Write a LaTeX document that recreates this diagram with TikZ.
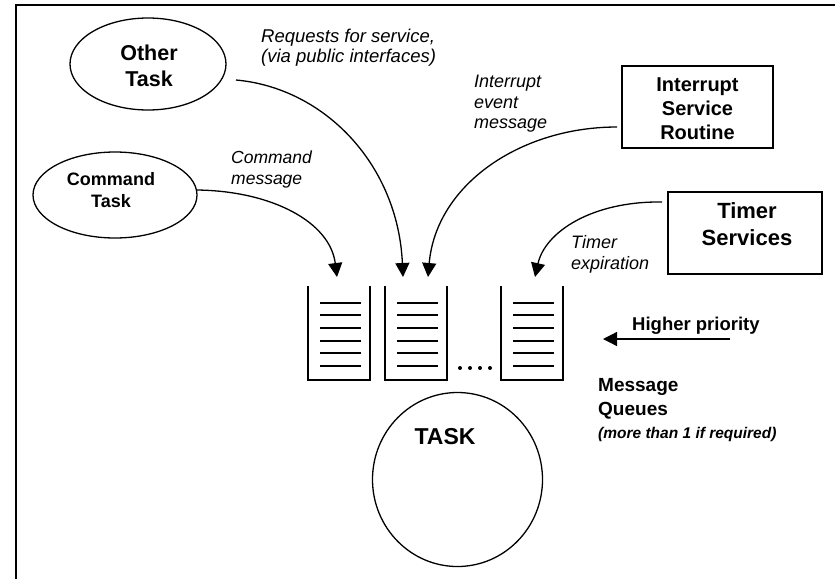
\documentclass[tikz,border=0pt]{standalone}
\usepackage{fontspec}
\setmainfont{Liberation Sans}
\usetikzlibrary{shapes.geometric,arrows.meta}
\begin{document}
\begin{tikzpicture}[x=1pt,y=-1pt,
  oval/.style={draw,ellipse,line width=1.3pt,inner sep=0pt},
  boxnode/.style={draw,rectangle,line width=1.5pt,inner sep=0pt},
  boldtxt/.style={font=\bfseries,align=center,inner sep=0pt},
  itxt/.style={font=\itshape\fontsize{18}{20.5}\selectfont,align=left,anchor=west,inner sep=0pt},
  flow/.style={line width=1.3pt,-{Triangle[length=14pt,width=14pt]}},
  wall/.style={line width=2pt},
  entry/.style={line width=2pt}]
\useasboundingbox (0,0) rectangle (835,579);
% frame
\draw[line width=2pt] (16,579) -- (16,5) -- (835,5);

% sources
\node[oval,minimum width=156pt,minimum height=92pt] (other) at (148,64) {};
\node[boldtxt,font=\bfseries\fontsize{21.5}{26}\selectfont] (othert) at (149,66) {Other\\Task};
\node[oval,minimum width=164pt,minimum height=86pt] (cmd) at (115,195) {};
\node[boldtxt,font=\bfseries\fontsize{18}{21.5}\selectfont] (cmdt) at (111,190) {Command\\Task};
\node[boxnode,minimum width=151pt,minimum height=82pt] (isr) at (697.5,107) {};
\node[boldtxt,font=\bfseries\fontsize{20}{24}\selectfont] (isrt) at (697.5,109) {Interrupt\\Service\\Routine};
\node[boxnode,minimum width=154pt,minimum height=82pt] (timer) at (745,233) {};
\node[boldtxt,font=\bfseries\fontsize{22}{27.5}\selectfont] (timert) at (747,224) {Timer\\Services};

% task
\node[oval,minimum width=170pt,minimum height=174pt] (task) at (457.5,479.5) {};
\node[boldtxt,font=\bfseries\fontsize{23}{26}\selectfont] (taskt) at (445,437) {TASK};

% queues
\foreach \l/\n in {308/q1,385/q2,501/q3}{
  \draw[wall] (\l,286) -- (\l,380) -- (\l+62,380) -- (\l+62,286);
  \foreach \yy in {302.5,315.2,327.9,340.6,353.3,366}{
    \draw[entry] (\l+12,\yy) -- (\l+53,\yy);
  }
}
\foreach \xx in {460,470,480,490}{
  \fill (\xx,368) circle (2pt);
}

% arrow tips
\coordinate (t1) at (337,277);
\coordinate (t2) at (403,277);
\coordinate (t3) at (428,277);
\coordinate (t4) at (535,277);
\coordinate (s1) at (197,190);
\coordinate (s2) at (236,80);
\coordinate (s3) at (617,127);
\coordinate (s4) at (662,202);

\draw[flow] (s1) .. controls (272,191) and (330,222) .. (t1);
\draw[flow] (s2) .. controls (325,88) and (398,165) .. (t2);
\draw[flow] (s3) .. controls (520,127) and (436,185) .. (t3);
\draw[flow] (s4) .. controls (592,201) and (545,232) .. (t4);

% labels
\node[itxt,font=\itshape\fontsize{18.5}{20}\selectfont] (l2) at (261,48) {Requests for service,\\(via public interfaces)};
\node[itxt] (l3) at (474,104) {Interrupt\\event\\message};
\node[itxt,font=\itshape\fontsize{17.5}{21}\selectfont] (l1) at (231,169.5) {Command\\message};
\node[itxt] (l4) at (571,254.5) {Timer\\expiration};

% priority
\node[boldtxt,font=\bfseries\fontsize{18.5}{20}\selectfont,anchor=west] (hp) at (632,326) {Higher priority};
\coordinate (hpa) at (730,339);
\coordinate (hpb) at (603,339);
\draw[flow] (hpa) -- (hpb);

\node[boldtxt,font=\bfseries\fontsize{19}{24}\selectfont,anchor=west,align=left] (mq) at (598,399) {Message\\Queues};
\node[boldtxt,font=\bfseries\itshape\fontsize{15.5}{18}\selectfont,anchor=west] (mqn) at (598,434) {(more than 1 if required)};
\end{tikzpicture}
\end{document}
